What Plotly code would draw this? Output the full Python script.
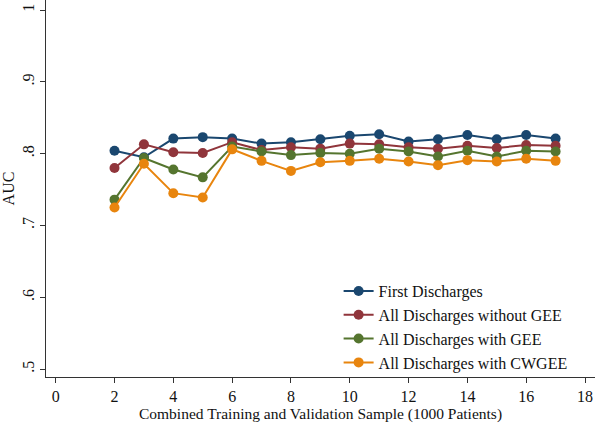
import plotly.graph_objects as go

x_vals = list(range(2, 18))
first_discharges = [0.804, 0.795, 0.821, 0.823, 0.821, 0.814, 0.816, 0.820, 0.825, 0.827, 0.817, 0.820, 0.826, 0.820, 0.826, 0.821]
all_without_gee = [0.780, 0.813, 0.802, 0.801, 0.816, 0.805, 0.809, 0.807, 0.814, 0.813, 0.809, 0.807, 0.811, 0.808, 0.812, 0.811]
all_with_gee = [0.736, 0.794, 0.778, 0.767, 0.810, 0.803, 0.798, 0.801, 0.800, 0.807, 0.803, 0.796, 0.804, 0.796, 0.804, 0.803]
all_with_cwgee = [0.725, 0.786, 0.745, 0.739, 0.806, 0.790, 0.776, 0.788, 0.790, 0.793, 0.789, 0.784, 0.791, 0.789, 0.793, 0.790]

series_names = ["First Discharges", "All Discharges without GEE", "All Discharges with GEE", "All Discharges with CWGEE"]
series_values = [first_discharges, all_without_gee, all_with_gee, all_with_cwgee]
colors = ["#1a476f", "#90353b", "#55752f", "#e8850e"]

x_ticks = list(range(0, 19, 2))
y_ticks = [0.5, 0.6, 0.7, 0.8, 0.9, 1.0]
y_tick_labels = [".5", ".6", ".7", ".8", ".9", "1"]

fig = go.Figure()
for name, vals, c in zip(series_names, series_values, colors):
    fig.add_trace(go.Scatter(
        x=x_vals, y=vals, name=name, mode="lines+markers",
        line=dict(color=c, width=2),
        marker=dict(color=c, size=10),
    ))

font = "Liberation Serif, Times New Roman, serif"
fig.update_layout(
    width=596, height=425,
    margin=dict(l=46, r=1, t=0, b=48, autoexpand=False),
    paper_bgcolor="white", plot_bgcolor="white",
    font=dict(family=font, size=16, color="#111"),
    showlegend=True,
    legend=dict(x=0.533, y=0.273, xanchor="left", yanchor="top",
                bgcolor="rgba(255,255,255,0)", font=dict(size=16, family=font),
                tracegroupgap=0),
    xaxis=dict(
        range=[-0.33, 18.34], tickvals=x_ticks, showgrid=False, zeroline=False,
        showline=True, linecolor="#333", linewidth=1.2,
        ticks="outside", ticklen=5, tickcolor="#333", automargin=False,
        title=dict(text="Combined Training and Validation Sample (1000 Patients)", standoff=0, font=dict(size=15.5)),
        tickfont=dict(size=16),
    ),
    yaxis=dict(
        range=[0.489, 1.014], tickvals=y_ticks, ticktext=y_tick_labels,
        showgrid=False, zeroline=False,
        showline=True, linecolor="#333", linewidth=1.2,
        ticks="outside", ticklen=5, tickcolor="#333", tickangle=-90, automargin=False,
        title=dict(text="AUC", standoff=2, font=dict(size=16)),
        tickfont=dict(size=16),
    ),
)

fig.write_html("out.html", config={"displayModeBar": False},
               post_script="document.body.style.margin='0px';")
